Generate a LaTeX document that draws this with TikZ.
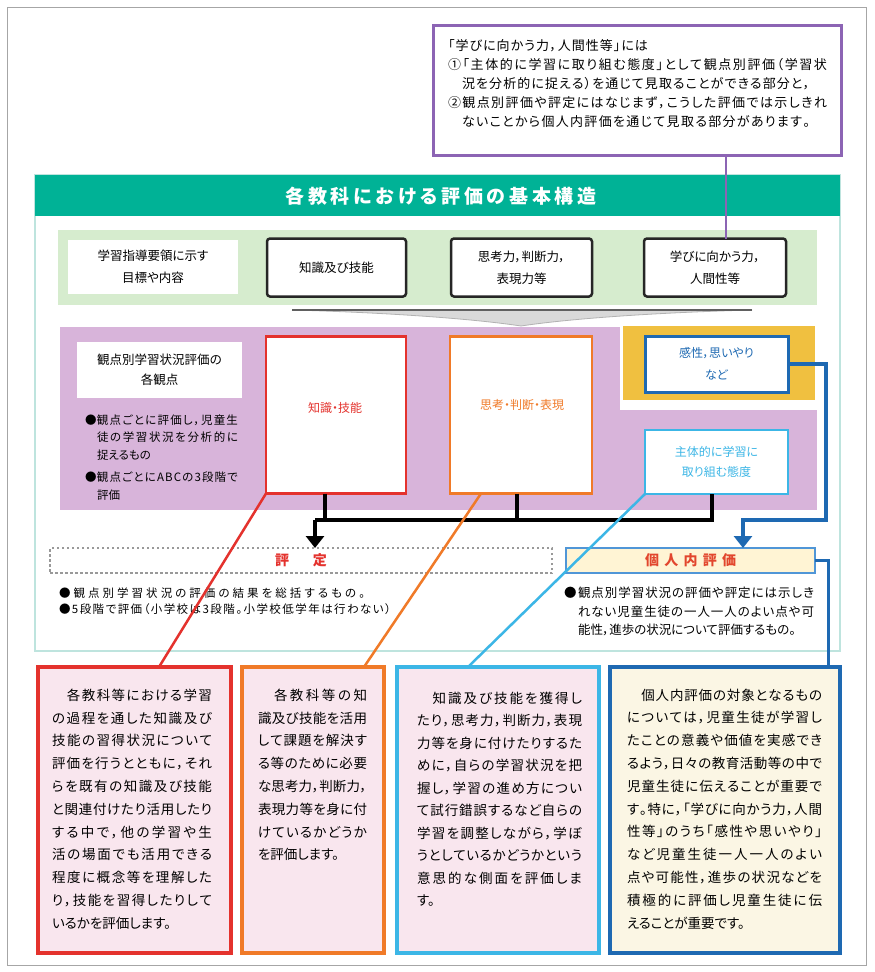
\documentclass[tikz,border=0pt]{standalone}
\usepackage{fontspec}
\setmainfont{Noto Sans CJK JP}[CharacterWidth=AlternateProportional]
\usetikzlibrary{arrows.meta}
\makeatletter
\def\jus@end{}
\newcommand\jus[2]{\hbox to #1{\jus@a#2\jus@end}}
\def\jus@a#1{#1\jus@b}
\def\jus@b#1{\ifx#1\jus@end\else\hskip0pt plus1fil minus0.8pt\relax#1\expandafter\jus@b\fi}
\makeatother
\newcommand\fsz[2]{\fontsize{#1}{#2}\selectfont}
\definecolor{tealc}{RGB}{0,178,150}
\definecolor{tealf}{RGB}{190,228,222}
\definecolor{greenb}{RGB}{214,236,206}
\definecolor{purpr}{RGB}{216,180,218}
\definecolor{goldr}{RGB}{240,192,64}
\definecolor{purpl}{RGB}{140,100,180}
\definecolor{redc}{RGB}{228,50,45}
\definecolor{orangec}{RGB}{240,122,40}
\definecolor{cyanc}{RGB}{60,182,230}
\definecolor{bluec}{RGB}{30,105,178}
\definecolor{pinkf}{RGB}{249,230,238}
\definecolor{creamf}{RGB}{251,246,228}
\definecolor{yellowf}{RGB}{255,244,212}
\definecolor{kjb}{RGB}{80,150,215}
\definecolor{kjt}{RGB}{226,70,45}
\begin{document}
\begin{tikzpicture}[x=1pt,y=-1pt,
  every node/.style={inner sep=0pt,outer sep=0pt},
  kbox/.style={draw=black!85,line width=2.5pt,rounded corners=3pt,fill=white,align=center,font=\fsz{12.5}{22},minimum height=58},
  wbox/.style={fill=white,align=center},
  body/.style={anchor=west,align=left},
  blk/.style={line width=4pt,black},
  bl/.style={line width=4pt,bluec},
  diag/.style={line width=2.5pt},
  bbox/.style={line width=4pt,minimum height=286}
]
\useasboundingbox (0,0) rectangle (875,972);
\fill[white] (0,0) rectangle (875,972);
\draw[gray!70,line width=1pt] (7,7) rectangle (866,965);

% main frame and title
\draw[tealf,line width=2pt] (35,175) rectangle (840,651);
\fill[tealc] (35,175) rectangle (840,216);
\node[font=\fsz{19}{22}\bfseries,text=white] (title) at (441,196) {\jus{311pt}{各教科における評価の基本構造}};

% green band
\fill[greenb] (58,230) rectangle (817,305);
\node[wbox,font=\fsz{12.5}{22},minimum width=170,minimum height=54] (w1) at (153,267) {学習指導要領に示す\\目標や内容};
\node[kbox,minimum width=139] (kb1) at (336.5,267.5) {知識及び技能};
\node[kbox,minimum width=141] (kb2) at (521.5,267.5) {思考力，判断力，\\表現力等};
\node[kbox,minimum width=142] (kb3) at (715,267.5) {学びに向かう力，\\人間性等};

% funnel
\filldraw[fill=gray!30,draw=gray!60,line width=0.8pt] (292,310) -- (752,310) .. controls (640,313) and (560,320) .. (521,326) .. controls (482,320) and (402,313) .. (292,310);
\draw[gray!75!black,line width=1.5pt] (292,310) -- (752,310);

% purple region
\fill[purpr] (60,327) rectangle (817,510);
\fill[white] (620,322) rectangle (820,410);
\fill[goldr] (623,326) rectangle (815,400);

\node[wbox,font=\fsz{12.5}{20},minimum width=165,minimum height=56] (kw) at (159.5,370) {観点別学習状況評価の\\各観点};
\node[body,font=\fsz{11.5}{17.5}] (pb1) at (85,437.5) {\hbox to 153pt{●\hfill\jus{141pt}{観点ごとに評価し，児童生}}\\\hbox to 153pt{\hfill\jus{141pt}{徒の学習状況を分析的に}}\\\hbox{\kern12pt 捉えるもの}};
\node[body,font=\fsz{11.5}{17.5}] (pb2) at (85,486) {\hbox to 153pt{●\hfill\jus{141pt}{観点ごとにABCの3段階で}}\\\hbox{\kern12pt 評価}};

\node[draw=redc,line width=2.5pt,fill=white,minimum width=140,minimum height=157] (rk) at (336,415) {};
\node[text=redc,font=\fsz{12}{14}] (rkt) at (335,408) {知識・技能};
\node[draw=orangec,line width=2.5pt,fill=white,minimum width=142,minimum height=157] (ok) at (521,415) {};
\node[text=orangec,font=\fsz{12}{14}] (okt) at (522,405) {思考・判断・表現};
\node[draw=bluec,line width=3pt,fill=white,minimum width=143,minimum height=56,align=center,text=bluec,font=\fsz{12}{22}] (bk) at (716.5,364) {感性，思いやり\\など};
\node[draw=cyanc,line width=2.5pt,fill=white,minimum width=143,minimum height=64,align=center,text=cyanc,font=\fsz{12}{20}] (ck) at (716.5,462) {主体的に学習に\\取り組む態度};

% evaluation boxes
\node[draw=gray!80,line width=1.2pt,dash pattern=on 2.5pt off 2.5pt,fill=white,minimum width=502,minimum height=25,text=redc,font=\fsz{14}{16}\bfseries] (hy) at (301,560.5) {\jus{52pt}{評定}};
\node[draw=kjb,line width=2pt,fill=yellowf,minimum width=249,minimum height=25,text=kjt,font=\fsz{14}{16}\bfseries] (kj) at (690.5,560.5) {\jus{91pt}{個人内評価}};

\node[body,font=\fsz{11.5}{16.5}] (hyb) at (59,601) {\jus{306pt}{●観点別学習状況の評価の結果を総括するもの。}\\\jus{332pt}{●5段階で評価（小学校は3段階。小学校低学年は行わない）}};
\node[body,font=\fsz{12.5}{18.5}] (kjbt) at (564,611.5) {\hbox to 250pt{●\hfill\jus{236pt}{観点別学習状況の評価や評定には示しき}}\\\hbox to 250pt{\hfill\jus{236pt}{れない児童生徒の一人一人のよい点や可}}\\\hbox{\kern14pt 能性，進歩の状況について評価するもの。}};

% connectors in the structure
\coordinate (jl) at (315,520);
\coordinate (jr) at (712,520);
\draw[blk] (ck.south -| jr) -- (jr) -- (jl);
\draw[blk] (rk.south -| 325,0) -- (jl -| 325,0);
\draw[blk] (ok.south -| 517,0) -- (jl -| 517,0);
\draw[blk,-{Triangle[length=12pt,width=18pt]}] (jl) -- (hy.north -| jl);

\coordinate (bc) at (826,520);
\coordinate (ba) at (743,520);
\draw[bl,-{Triangle[length=12pt,width=18pt]}] (bk.east) -| (bc) -- (ba) -- (kj.north -| ba);

% top box
\node[draw=purpl,line width=3pt,fill=white,minimum width=408,minimum height=130] (tb) at (637,90) {};
\node[body,font=\fsz{13}{19}] (tbt) at (448,84) {\jus{200pt}{「学びに向かう力，人間性等」には}\\\jus{379pt}{①「主体的に学習に取り組む態度」として観点別評価（学習状}\\\hbox{\kern14pt\jus{348pt}{況を分析的に捉える）を通じて見取ることができる部分と，}}\\\jus{379pt}{②観点別評価や評定にはなじまず，こうした評価では示しきれ}\\\hbox{\kern14pt\jus{348pt}{ないことから個人内評価を通じて見取る部分があります。}}};
\draw[purpl,line width=2pt] (tb.south -| 726,0) -- (kb3.north -| 726,0);

% bottom boxes
\node[bbox,draw=redc,fill=pinkf,minimum width=193] (b1) at (134.5,810) {};
\node[bbox,draw=orangec,fill=pinkf,minimum width=142] (b2) at (313,810) {};
\node[bbox,draw=cyanc,fill=pinkf,minimum width=202] (b3) at (498,810) {};
\node[bbox,draw=bluec,fill=creamf,minimum width=230] (b4) at (725,810) {};

\node[body,font=\fsz{13.5}{22.8}] (b1t) at (52,809) {\jus{160pt}{　各教科等における学習}\\
\jus{160pt}{の過程を通した知識及び}\\
\jus{160pt}{技能の習得状況について}\\
\jus{160pt}{評価を行うとともに，それ}\\
\jus{160pt}{らを既有の知識及び技能}\\
\jus{160pt}{と関連付けたり活用したり}\\
\jus{160pt}{する中で，他の学習や生}\\
\jus{160pt}{活の場面でも活用できる}\\
\jus{160pt}{程度に概念等を理解した}\\
\jus{160pt}{り，技能を習得したりして}\\
いるかを評価します。};

\node[body,font=\fsz{13.5}{22.8}] (b2t) at (258,774.8) {\jus{109pt}{　各教科等の知}\\
\jus{109pt}{識及び技能を活用}\\
\jus{109pt}{して課題を解決す}\\
\jus{109pt}{る等のために必要}\\
\jus{109pt}{な思考力，判断力，}\\
\jus{109pt}{表現力等を身に付}\\
\jus{109pt}{けているかどうか}\\
を評価します。};

\node[body,font=\fsz{13.5}{22.5}] (b3t) at (417,799) {\jus{165pt}{　知識及び技能を獲得し}\\
\jus{165pt}{たり，思考力，判断力，表現}\\
\jus{165pt}{力等を身に付けたりするた}\\
\jus{165pt}{めに，自らの学習状況を把}\\
\jus{165pt}{握し，学習の進め方につい}\\
\jus{165pt}{て試行錯誤するなど自らの}\\
\jus{165pt}{学習を調整しながら，学ぼ}\\
\jus{165pt}{うとしているかどうかという}\\
\jus{165pt}{意思的な側面を評価しま}\\
す。};

\node[body,font=\fsz{13.5}{22.8}] (b4t) at (627,809) {\jus{195pt}{　個人内評価の対象となるもの}\\
\jus{195pt}{については，児童生徒が学習し}\\
\jus{195pt}{たことの意義や価値を実感でき}\\
\jus{195pt}{るよう，日々の教育活動等の中で}\\
\jus{195pt}{児童生徒に伝えることが重要で}\\
\jus{195pt}{す。特に，「学びに向かう力，人間}\\
\jus{195pt}{性等」のうち「感性や思いやり」}\\
\jus{195pt}{など児童生徒一人一人のよい}\\
\jus{195pt}{点や可能性，進歩の状況などを}\\
\jus{195pt}{積極的に評価し児童生徒に伝}\\
えることが重要です。};

% connectors to bottom boxes
\draw[bluec,line width=3pt] (kj.east) -| (b4.north -| 828,0);
\draw[diag,redc] (rk.south west) -- (b1.north -| 159,0);
\draw[diag,orangec] (ok.south -| 481,0) -- (b2.north -| 364,0);
\draw[diag,cyanc] (ck.south west) -- (b3.north -| 468,0);
\end{tikzpicture}
\end{document}
